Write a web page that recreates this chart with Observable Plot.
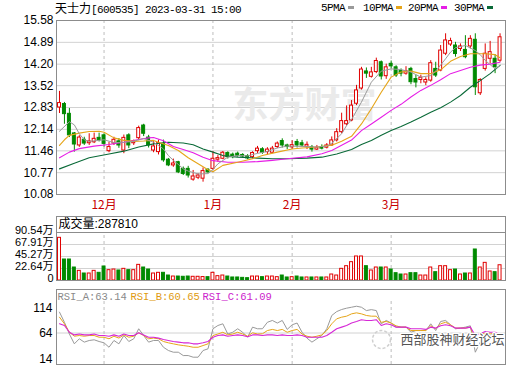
<!DOCTYPE html>
<html><head><meta charset="utf-8">
<script src="https://cdn.jsdelivr.net/npm/d3@7"></script>
<script src="https://cdn.jsdelivr.net/npm/@observablehq/plot@0.6"></script>
<style>
body{margin:0;background:#fff;}
#wrap{position:relative;width:520px;height:365px;overflow:hidden;background:#fff;font-family:"Liberation Sans",Arial,"Noto Sans CJK SC",sans-serif;}
#wrap svg{position:absolute;left:0;}
.hdr{position:absolute;white-space:nowrap;font-size:12px;line-height:14px;color:#000;}
.cjk{font-family:"Noto Sans CJK SC",sans-serif;font-size:12px;}
.mono{font-family:"Liberation Mono","DejaVu Sans Mono",monospace;font-size:11px;letter-spacing:-0.6px;}
.sw{position:absolute;width:6px;height:3px;}
</style></head><body><div id="wrap"></div><script>
// ---------- data ----------
const titleName = "天士力";
const titleCode = "[600535] 2023-03-31 15:00";
const monthLabels = ["12月", "1月", "2月", "3月"];
const monthStart = [9, 31, 47, 67];
const priceTicks = [10.08, 10.77, 11.46, 12.14, 12.83, 13.52, 14.20, 14.89, 15.58];
const volTicks = [0, 22.64, 45.27, 67.91, 90.54];
const rsiTicks = [14, 64, 114];
const lastVolume = 287810;
const rsiLast = {A: 63.14, B: 60.65, C: 61.09};

const open = [12.83,12.94,12.63,12.01,11.63,11.81,11.70,11.73,11.87,11.95,
11.45,11.69,11.76,11.47,11.95,11.70,11.86,12.26,11.88,11.47,
11.42,11.68,11.18,11.00,11.10,10.89,10.89,10.55,10.61,10.58,
10.86,10.89,11.18,11.21,11.39,11.34,11.37,11.33,11.29,11.26,
11.45,11.51,11.42,11.40,11.58,11.77,11.63,11.57,11.74,11.70,
11.59,11.57,11.50,11.58,11.56,11.63,11.79,12.05,12.30,12.42,
12.95,13.43,13.97,13.80,13.95,14.26,13.82,14.21,14.10,13.98,
13.90,14.05,13.73,13.70,13.62,13.68,14.05,14.00,14.53,14.82,
14.79,14.68,14.65,14.76,14.97,13.28,14.05,14.37,14.37,14.31];
const close = [12.97,12.62,11.95,11.66,11.88,11.69,11.76,11.84,11.79,11.68,
11.58,11.81,11.63,11.87,11.63,11.76,12.18,12.00,11.63,11.60,
11.70,11.16,11.00,11.06,10.78,10.73,10.68,10.65,10.68,10.82,
10.78,11.21,11.23,11.40,11.26,11.26,11.30,11.28,11.22,11.39,
11.53,11.40,11.50,11.53,11.69,11.63,11.58,11.64,11.63,11.63,
11.65,11.50,11.56,11.53,11.63,11.79,12.05,12.40,12.40,12.89,
13.37,14.03,13.90,13.94,14.30,13.81,14.10,14.13,13.84,13.90,
13.98,13.63,13.62,13.77,13.70,14.23,13.84,14.63,14.95,14.93,
14.52,14.76,14.42,15.00,13.47,13.70,14.53,14.58,14.11,15.05];
const high = [13.34,12.99,12.80,12.04,11.94,11.89,12.00,12.02,12.02,12.00,
11.73,11.89,11.85,11.96,12.00,11.80,12.24,12.30,11.95,11.75,
11.80,11.80,11.22,11.20,11.13,10.95,10.97,10.84,10.74,10.92,
10.90,11.44,11.31,11.44,11.43,11.39,11.42,11.37,11.34,11.43,
11.60,11.56,11.56,11.60,11.74,11.84,11.67,11.78,11.82,11.79,
11.74,11.63,11.63,11.65,11.69,11.90,12.16,12.65,12.88,13.05,
13.53,14.10,14.08,14.10,14.39,14.30,14.20,14.30,14.15,14.05,
14.12,14.10,13.85,13.85,13.77,14.31,14.26,14.79,15.16,15.02,
14.89,14.84,15.10,15.10,15.16,13.74,14.84,14.92,14.50,15.16];
const low = [12.64,12.30,11.88,11.42,11.57,11.63,11.63,11.69,11.74,11.58,
11.40,11.63,11.54,11.37,11.53,11.63,11.78,11.91,11.55,11.40,
11.33,11.10,10.96,10.94,10.74,10.68,10.60,10.50,10.55,10.47,
10.75,10.84,11.10,11.18,11.20,11.21,11.26,11.22,11.18,11.20,
11.37,11.35,11.33,11.37,11.53,11.55,11.50,11.50,11.55,11.58,
11.50,11.42,11.47,11.49,11.52,11.60,11.74,12.00,12.25,12.38,
12.89,13.38,13.75,13.76,13.90,13.70,13.72,14.05,13.78,13.80,
13.85,13.55,13.45,13.58,13.52,13.63,13.78,13.96,14.47,14.76,
14.42,14.60,14.37,14.68,13.21,13.21,13.98,14.21,13.90,14.26];

// moving averages (candle index, value)
const ma5Idx = [0,2,3,4,5,6,8,9,11,13,15,16,17,19,20,21,22,23,24,25,26,28,30,31,32,34,36,38,40,42,44,46,49,52,54,55,57,58,59,61,63,65,67,69,71,73,75,76,78,79,80,82,84,85,86,88,89];
const ma5Val = [12.08,12.38,12.28,12.00,11.81,11.76,11.79,11.81,11.72,11.73,11.76,11.81,11.85,11.73,11.63,11.52,11.31,11.16,11.03,10.89,10.82,10.73,10.74,10.87,11.05,11.26,11.31,11.30,11.38,11.44,11.55,11.61,11.60,11.58,11.61,11.70,12.00,12.26,12.45,13.00,13.63,13.98,14.05,14.03,13.95,13.79,13.84,13.98,14.37,14.58,14.72,14.79,14.63,14.50,14.32,14.05,14.16];
const ma10Idx = [0,1,2,4,6,8,9,11,13,15,17,19,20,22,24,26,28,30,31,33,36,39,41,44,47,49,52,55,57,59,61,63,65,67,69,71,73,75,77,79,81,83,84,86,88,89];
const ma10Val = [11.63,11.81,11.95,12.02,12.07,12.08,12.05,11.87,11.79,11.76,11.77,11.79,11.73,11.63,11.47,11.24,11.05,10.86,10.80,11.00,11.10,11.21,11.31,11.42,11.52,11.55,11.58,11.64,11.76,11.92,12.31,12.79,13.31,13.79,13.95,13.98,13.90,13.90,14.02,14.29,14.44,14.53,14.53,14.53,14.50,14.40];
const ma20Idx = [0,2,4,7,10,13,16,18,19,21,23,25,27,29,31,34,37,40,43,46,50,53,55,57,59,61,63,65,67,69,71,73,75,77,79,81,83,85,87,89];
const ma20Val = [11.24,11.42,11.53,11.61,11.66,11.73,11.82,11.87,11.88,11.78,11.60,11.50,11.40,11.26,11.15,11.10,11.10,11.12,11.16,11.21,11.27,11.37,11.47,11.64,11.80,12.10,12.31,12.52,12.74,12.93,13.16,13.37,13.53,13.71,13.90,14.00,14.10,14.17,14.20,14.26];
const ma30Idx = [0,3,6,10,13,16,19,22,25,27,29,31,33,36,40,43,46,50,53,56,59,61,63,65,67,69,71,73,75,77,79,81,83,85,87,89];
const ma30Val = [10.89,11.07,11.24,11.36,11.45,11.58,11.68,11.73,11.71,11.65,11.52,11.42,11.31,11.26,11.23,11.21,11.21,11.23,11.26,11.36,11.50,11.66,11.79,11.95,12.10,12.23,12.37,12.52,12.68,12.82,13.00,13.21,13.47,13.68,13.90,14.16];

// volume in 万 shares
const volume = [80.5,39.6,39.6,24.5,18.2,13.2,13.2,18.2,14.5,26.4,
19.5,20.7,18.9,22.0,19.5,19.5,29.5,24.5,20.7,13.2,
14.5,14.5,9.4,7.5,7.5,7.0,7.5,7.0,7.0,6.5,
6.3,14.5,8.2,9.4,7.5,5.7,5.7,5.0,4.4,7.5,
7.5,6.3,7.5,7.5,6.3,9.4,5.7,6.3,7.5,5.7,
5.7,5.7,5.7,5.7,5.7,11.3,9.4,22.0,27.0,34.6,
45.3,45.3,27.0,18.9,24.5,24.5,24.5,20.7,13.8,11.3,
11.3,13.8,13.8,9.4,9.4,24.5,15.7,27.0,27.0,19.5,
20.7,11.3,13.2,13.2,58.5,24.5,33.3,17.0,15.7,28.78];

const rsiA = [97.1,81.0,62.4,46.8,54.8,49.5,52.1,53.2,50.5,48.4,
41.4,52.1,46.8,60.0,50.5,54.8,70.7,60.0,49.5,52.1,
52.1,41.4,36.2,33.5,33.5,28.2,28.2,25.6,25.6,36.2,
38.9,70.7,75.9,78.6,62.4,65.2,70.7,65.2,57.3,73.3,
70.7,70.7,81.0,83.9,79.8,83.9,69.7,77.0,79.8,65.2,
55.8,49.5,54.8,60.0,70.7,91.8,98.0,101.3,103.4,104.9,
106.5,104.9,99.6,101.1,99.6,78.6,83.9,79.8,73.3,73.3,
73.3,65.2,67.9,67.9,67.9,78.6,67.9,82.3,83.9,77.0,
70.7,71.8,73.3,75.4,33.5,49.5,62.4,60.0,62.4,63.14];
const rsiB = [89.1,78.6,65.2,58.9,60.0,58.9,60.0,60.0,57.3,57.3,
54.8,58.9,55.9,61.0,57.3,58.9,64.3,60.0,54.8,55.9,
54.8,50.5,48.4,46.8,45.2,44.1,43.0,41.4,41.4,44.1,
46.8,60.0,62.4,65.2,61.0,62.4,65.2,62.4,58.9,64.3,
62.4,62.8,67.9,69.7,67.9,69.7,65.2,67.9,69.7,62.4,
58.9,57.3,58.9,61.0,67.9,78.6,86.5,89.1,90.7,94.4,
96.0,94.4,91.8,90.7,90.7,81.0,82.3,79.8,75.4,73.3,
73.3,67.9,67.9,67.9,67.9,75.4,70.7,78.6,81.0,77.0,
71.8,71.8,71.8,73.3,52.1,60.0,64.3,62.4,64.3,60.65];
const rsiC = [78.6,75.9,65.2,61.0,62.4,61.0,61.0,62.4,60.0,60.0,
58.9,61.0,58.9,62.4,60.0,60.0,64.3,61.0,57.3,57.3,
55.9,53.7,52.1,50.5,49.5,48.4,48.4,46.8,46.8,48.4,
50.5,57.3,60.0,61.0,58.9,60.0,61.0,60.0,58.0,61.0,
61.0,60.0,61.0,61.0,60.0,61.0,60.0,60.0,61.0,60.0,
57.3,57.3,57.3,57.3,60.0,65.2,70.7,73.3,75.9,79.8,
82.3,85.1,83.9,83.9,85.1,75.9,78.6,77.0,73.3,73.3,
73.3,70.7,70.7,70.7,69.7,73.3,71.8,75.4,77.0,75.4,
71.8,71.8,71.8,73.3,60.0,62.8,66.5,65.2,65.2,61.09];

// ---------- styles ----------
const RED = "#e00000", GREEN = "#008a00";
const C5 = "#9a9a9a", C10 = "#e6a519", C20 = "#e61ee6", C30 = "#0a6a38";
const RA = "#999999", RB = "#e6a519", RC = "#d628d6";
const GRID = "#d2d2d2", BORDER = "#8c8c8c", DASH = "#bdbdbd";
const XDOM = [-0.606, 90.1];
const FONT = "'Liberation Sans', Arial, 'Noto Sans CJK SC', sans-serif";

const candles = d3.range(open.length).map(i => ({
  i, o: open[i], c: close[i], h: high[i], l: low[i], v: volume[i], up: close[i] >= open[i]
}));
const ups = candles.filter(d => d.up), downs = candles.filter(d => !d.up);
const pts = (idx, val) => idx.map((k, j) => ({i: k, v: val[j]}));
const rsiRows = (arr) => arr.map((v, i) => ({i, v}));
const months = monthStart.map((i, k) => ({i, label: monthLabels[k]}));
const HW = 0.3;

const wrap = document.getElementById("wrap");

// ---------- main price panel ----------
const main = Plot.plot({
  width: 520, height: 212,
  marginLeft: 56, marginRight: 15, marginTop: 20, marginBottom: 18,
  style: {fontFamily: FONT, fontSize: "12px", color: "#000", background: "transparent", overflow: "visible"},
  x: {domain: XDOM, axis: null},
  y: {domain: [10.08, 15.58], axis: null, label: null},
  marks: [
    Plot.gridY(priceTicks, {stroke: GRID, strokeOpacity: 1}),
    Plot.ruleX(monthStart, {stroke: DASH, strokeDasharray: "3,3"}),
    Plot.text(["东方财富"], {frameAnchor: "top-left", dx: 176, dy: 86, textAnchor: "start", lineAnchor: "middle",
      fontSize: 36, fontWeight: "bold", fill: "#eaeaea", fontFamily: "'Noto Sans CJK SC', sans-serif"}),
    Plot.ruleX(ups, {x: "i", y1: "l", y2: "h", stroke: RED}),
    Plot.ruleX(downs, {x: "i", y1: "l", y2: "h", stroke: GREEN}),
    Plot.rect(ups, {x1: d => d.i - HW, x2: d => d.i + HW, y1: "o", y2: "c", fill: "#fff", stroke: RED}),
    Plot.rect(downs, {x1: d => d.i - HW, x2: d => d.i + HW, y1: "o", y2: "c", fill: GREEN, stroke: GREEN}),
    Plot.line(pts(ma30Idx, ma30Val), {x: "i", y: "v", stroke: C30, strokeWidth: 1.1}),
    Plot.line(pts(ma20Idx, ma20Val), {x: "i", y: "v", stroke: C20, strokeWidth: 1.1}),
    Plot.line(pts(ma10Idx, ma10Val), {x: "i", y: "v", stroke: C10, strokeWidth: 1.1}),
    Plot.line(pts(ma5Idx, ma5Val), {x: "i", y: "v", stroke: C5, strokeWidth: 1}),
    Plot.frame({stroke: BORDER}),
    Plot.axisY(priceTicks, {tickSize: 0, tickPadding: 3, tickFormat: d => d.toFixed(2), fontSize: 12, label: null}),
    Plot.text(months, {x: "i", text: "label", frameAnchor: "bottom", dy: 11, lineAnchor: "middle",
      fill: "#c80000", fontSize: 12, fontFamily: "'Noto Sans CJK SC', sans-serif"})
  ]
});
main.style.top = "0px";
wrap.appendChild(main);

// ---------- volume panel ----------
const volTop = 90.54 + 16 * 90.54 / 48;
const vol = Plot.plot({
  width: 520, height: 70,
  marginLeft: 56, marginRight: 15, marginTop: 4, marginBottom: 2,
  style: {fontFamily: FONT, fontSize: "11px", color: "#000", background: "transparent", overflow: "visible"},
  x: {domain: XDOM, axis: null},
  y: {domain: [0, volTop], axis: null, label: null},
  marks: [
    Plot.gridY(volTicks.slice(1, 4), {stroke: GRID, strokeOpacity: 1}),
    Plot.ruleX(monthStart, {y1: 0, y2: 90.54, stroke: DASH, strokeDasharray: "3,3"}),
    Plot.ruleY([90.54], {stroke: BORDER}),
    Plot.rect(ups, {x1: d => d.i - HW, x2: d => d.i + HW, y1: 0, y2: "v", fill: "#fff", stroke: RED}),
    Plot.rect(downs, {x1: d => d.i - HW, x2: d => d.i + HW, y1: 0, y2: "v", fill: GREEN, stroke: GREEN}),
    Plot.frame({stroke: BORDER}),
    Plot.axisY(volTicks, {tickSize: 0, tickPadding: 3, dy: -2, fontSize: 11, label: null,
      tickFormat: d => d === 0 ? "0" : d.toFixed(2) + "万"}),
    Plot.text([`成交量:${lastVolume}`], {frameAnchor: "top-left", dx: 2, dy: 8, textAnchor: "start",
      lineAnchor: "middle", fontSize: 12, fill: "#000"})
  ]
});
vol.style.top = "212px";
wrap.appendChild(vol);

// ---------- RSI panel ----------
const rsiTop = 114 + 12 / 0.63;
const rsi = Plot.plot({
  width: 520, height: 80,
  marginLeft: 56, marginRight: 15, marginTop: 4, marginBottom: 1,
  style: {fontFamily: FONT, fontSize: "12px", color: "#000", background: "transparent", overflow: "visible"},
  x: {domain: XDOM, axis: null},
  y: {domain: [14, rsiTop], axis: null, label: null},
  marks: [
    Plot.gridY([64], {stroke: GRID, strokeOpacity: 1}),
    Plot.ruleX(monthStart, {y1: 14, y2: 114, stroke: DASH, strokeDasharray: "3,3"}),
    Plot.line(rsiRows(rsiA), {x: "i", y: "v", stroke: RA, strokeWidth: 1}),
    Plot.line(rsiRows(rsiB), {x: "i", y: "v", stroke: RB, strokeWidth: 1}),
    Plot.line(rsiRows(rsiC), {x: "i", y: "v", stroke: RC, strokeWidth: 1.1}),
    Plot.dot([0], {frameAnchor: "top-left", dx: 325, dy: 50, r: 9, stroke: "#cfcfcf", strokeDasharray: "3,2", fill: "none"}),
    Plot.text(["西部股神财经论坛"], {frameAnchor: "top-left", dx: 344, dy: 50, textAnchor: "start", lineAnchor: "middle",
      fontSize: 13, fill: "#555", stroke: "#fff", strokeWidth: 2.5, fontFamily: "'Noto Sans CJK SC', sans-serif"}),
    Plot.frame({stroke: BORDER}),
    Plot.axisY([114], {tickSize: 0, tickPadding: 4, dy: 7, fontSize: 12, label: null}),
    Plot.axisY([64], {tickSize: 0, tickPadding: 4, fontSize: 12, label: null}),
    Plot.axisY([14], {tickSize: 0, tickPadding: 4, dy: -5, fontSize: 12, label: null}),
    Plot.text([`RSI_A:${rsiLast.A.toFixed(2)}`], {frameAnchor: "top-left", dx: 1, dy: 7, textAnchor: "start", lineAnchor: "middle",
      fill: "#8a8a8a", fontSize: 10.5, fontFamily: "'Liberation Mono', monospace"}),
    Plot.text([`RSI_B:${rsiLast.B.toFixed(2)}`], {frameAnchor: "top-left", dx: 74, dy: 7, textAnchor: "start", lineAnchor: "middle",
      fill: "#e09a10", fontSize: 10.5, fontFamily: "'Liberation Mono', monospace"}),
    Plot.text([`RSI_C:${rsiLast.C.toFixed(2)}`], {frameAnchor: "top-left", dx: 146, dy: 7, textAnchor: "start", lineAnchor: "middle",
      fill: "#cc22cc", fontSize: 10.5, fontFamily: "'Liberation Mono', monospace"})
  ]
});
rsi.style.top = "285px";
wrap.appendChild(rsi);

// ---------- title and legend ----------
const title = document.createElement("div");
title.className = "hdr";
title.style.left = "55px"; title.style.top = "1px";
title.innerHTML = `<span class="cjk">${titleName}</span><span class="mono">${titleCode}</span>`;
wrap.appendChild(title);

const legend = [["5PMA", C5, 321], ["10PMA", C10, 363], ["20PMA", C20, 408], ["30PMA", C30, 454]];
legend.forEach(([t, c, x]) => {
  const s = document.createElement("div");
  s.className = "hdr mono";
  s.style.left = x + "px"; s.style.top = "1px";
  s.textContent = t;
  wrap.appendChild(s);
  const w = t.length * 6;
  const sw = document.createElement("div");
  sw.className = "sw";
  sw.style.left = (x + w + 3) + "px"; sw.style.top = "6px"; sw.style.background = c;
  wrap.appendChild(sw);
});
</script></body></html>
